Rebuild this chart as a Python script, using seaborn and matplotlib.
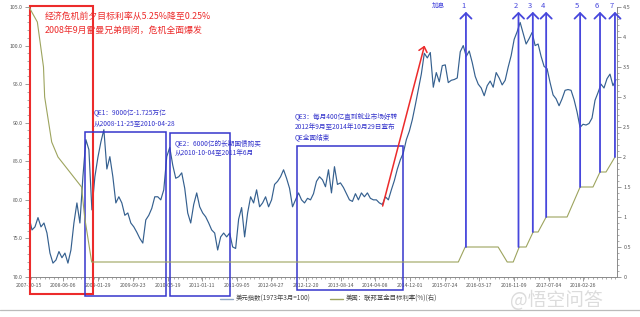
import numpy as np
import pandas as pd
import matplotlib
matplotlib.use("Agg")
import matplotlib.pyplot as plt
import matplotlib.dates as mdates
from matplotlib.patches import Rectangle
from matplotlib.lines import Line2D
from matplotlib.ticker import MultipleLocator, FormatStrFormatter
import seaborn as sns

# ---------------- data ----------------
dxy_start = "2007-10-15"
dxy_end = "2018-10-07"
dxy_values = [
    77.8, 76.1, 76.5, 77.7, 76.5, 77.0, 75.7, 73.1, 71.8, 72.2, 73.3, 72.5, 73.1, 71.8, 73.5, 77.0, 79.6, 77.0, 83.0,
    87.8, 86.5, 78.7, 83.0, 85.5, 87.5, 89.1, 84.0, 85.6, 83.0, 79.6, 80.4, 79.6, 78.0, 78.3, 77.0, 76.5, 75.8, 75.0,
    74.4, 77.4, 78.0, 78.9, 80.4, 80.4, 80.0, 81.3, 85.6, 86.8, 84.5, 82.8, 83.0, 83.5, 81.5, 78.3, 77.0, 79.4, 80.9,
    79.1, 78.3, 77.8, 77.0, 76.1, 75.7, 73.5, 75.2, 75.7, 75.2, 75.7, 73.9, 73.7, 77.5, 79.0, 75.2, 78.3, 80.4, 79.6,
    81.3, 79.1, 79.6, 80.4, 79.1, 80.0, 82.0, 82.4, 83.0, 83.9, 82.8, 81.5, 79.1, 80.0, 80.9, 80.0, 79.6, 80.2, 80.0,
    80.8, 82.4, 83.0, 82.6, 81.7, 83.9, 80.9, 84.3, 82.0, 82.2, 81.6, 80.8, 80.0, 79.8, 80.8, 80.0, 80.9, 80.4, 80.9,
    80.2, 80.0, 80.0, 79.6, 79.4, 80.4, 80.0, 81.3, 82.5, 84.0, 85.2, 86.1, 87.8, 88.9, 90.4, 92.3, 94.3, 96.3, 99.0,
    98.4, 99.1, 94.6, 96.5, 95.3, 97.4, 97.5, 95.2, 95.5, 95.6, 95.8, 99.2, 100.0, 98.6, 99.3, 97.8, 96.0, 95.0, 94.5,
    93.5, 94.8, 95.4, 94.6, 96.5, 95.8, 94.9, 95.5, 97.2, 98.7, 100.8, 101.8, 103.0, 101.6, 100.2, 100.9, 101.7, 100.0, 100.2,
    98.6, 97.3, 97.0, 95.2, 93.6, 93.1, 92.2, 93.1, 94.2, 94.3, 94.2, 93.0, 91.4, 89.4, 89.8, 89.7, 89.9, 90.6, 92.9,
    93.9, 95.0, 94.5, 95.7, 96.3, 94.8, 95.6,
]

fed_dates = ["2007-10-15", "2007-12-11", "2008-01-22", "2008-01-30", "2008-03-18", "2008-04-30",
             "2008-10-08", "2008-10-29", "2008-12-16", "2015-10-26", "2015-12-12", "2016-07-24",
             "2016-09-24", "2016-11-04", "2016-12-15", "2017-01-31", "2017-03-20", "2017-04-23",
             "2017-06-17", "2017-11-07", "2018-02-04", "2018-05-03", "2018-06-20", "2018-07-31",
             "2018-09-30"]
fed_rates = [4.5, 4.25, 3.5, 3.0, 2.25, 2.0, 1.5, 1.0, 0.25, 0.25, 0.5, 0.5,
             0.25, 0.25, 0.5, 0.5, 0.75, 0.75, 1.0, 1.0, 1.5, 1.5, 1.75, 1.75, 2.0]

hike_dates = ["2015-12-17", "2016-12-10", "2017-03-18", "2017-06-17", "2018-02-04", "2018-06-20", "2018-09-30"]
hike_rates = [0.5, 0.5, 0.75, 1.0, 1.5, 1.75, 2.0]
hike_labels = ["1", "2", "3", "4", "5", "6", "7"]

crisis_period = ("2007-10-24", "2008-12-22")
qe_starts = ["2008-11-02", "2010-06-03", "2012-10-16"]
qe_ends = ["2010-05-06", "2011-07-20", "2014-10-15"]

rally_start = ("2014-05-27", 79.2)
rally_end = ("2015-03-09", 100.0)

xtick_dates = ["2007-10-15", "2008-06-06", "2009-01-29", "2009-09-23", "2010-05-19", "2011-01-11",
               "2011-09-05", "2012-04-27", "2012-12-20", "2013-08-14", "2014-04-08", "2014-12-01",
               "2015-07-24", "2016-03-17", "2016-11-09", "2017-07-04", "2018-02-26"]

crisis_text = ["经济危机前夕目标利率从5.25%降至0.25%", "2008年9月雷曼兄弟倒闭，危机全面爆发"]
qe_texts = [["QE1：9000亿-1.725万亿", "从2008-11-25至2010-04-28"],
            ["QE2：6000亿的长期国债购买", "从2010-10-04至2011年6月"],
            ["QE3：每月400亿直到就业市场好转", "2012年9月至2014年10月29日宣布", "QE全面结束"]]
legend_labels = ["美元指数(1973年3月=100)", "美国：联邦基金目标利率(%)(右)"]

# ---------------- style ----------------
DXY_COLOR = "#35608f"
FED_COLOR = "#9da45e"
RED = "#ec2b2b"
BLUE = "#3535cc"
ARROW_BLUE = "#4646dc"
AX_GRAY = "#8a8a8a"
LABEL_GRAY = "#555555"

sns.set_theme(style="white")
plt.rcParams["font.family"] = ["Noto Sans CJK SC", "DejaVu Sans"]
plt.rcParams["axes.unicode_minus"] = False

W, H = 640, 317
L, R, T, B = 29, 617, 7, 277
fig = plt.figure(figsize=(6.4, 3.17), dpi=100)
fig.patch.set_facecolor("white")
ax = fig.add_axes([L / W, 1 - B / H, (R - L) / W, (B - T) / H])
ax.set_facecolor("white")


def P(x, y):
    """pixel position -> axes fraction (for annotation placement)"""
    return ((x - L) / (R - L), (B - y) / (B - T))


def D(s):
    return mdates.date2num(pd.Timestamp(s))


dxy = pd.DataFrame({"date": pd.date_range(dxy_start, dxy_end, periods=len(dxy_values)),
                    "dxy": dxy_values})
sns.lineplot(data=dxy, x="date", y="dxy", ax=ax, color=DXY_COLOR, lw=0.85, zorder=3)

ax2 = ax.twinx()
fed = pd.DataFrame({"date": pd.to_datetime(fed_dates), "rate": fed_rates})
sns.lineplot(data=fed, x="date", y="rate", ax=ax2, color=FED_COLOR, lw=0.8, zorder=2)

ax.set_xlim(pd.Timestamp("2007-10-15"), pd.Timestamp("2018-10-14"))
ax.set_ylim(70, 105)
ax2.set_ylim(0, 4.5)
for a in (ax, ax2):
    a.set_xlabel("")
    a.set_ylabel("")
    a.spines["top"].set_visible(False)
ax.spines["right"].set_visible(False)
ax2.spines["left"].set_visible(False)
ax2.spines["bottom"].set_visible(False)
for sp in ("left", "bottom"):
    ax.spines[sp].set_color(AX_GRAY)
    ax.spines[sp].set_linewidth(0.7)
ax2.spines["right"].set_color(AX_GRAY)
ax2.spines["right"].set_linewidth(0.7)

ax.set_xticks(pd.to_datetime(xtick_dates))
ax.set_xticklabels(xtick_dates)
ax.xaxis.set_minor_locator(mdates.MonthLocator())
ax.yaxis.set_major_locator(MultipleLocator(5))
ax.yaxis.set_minor_locator(MultipleLocator(1))
ax.yaxis.set_major_formatter(FormatStrFormatter("%.1f"))
ax2.yaxis.set_major_locator(MultipleLocator(0.5))
ax2.yaxis.set_minor_locator(MultipleLocator(0.1))
ax2.yaxis.set_major_formatter(FormatStrFormatter("%g"))

ax.tick_params(axis="both", which="major", bottom=True, left=True, length=3, width=0.6,
               color=AX_GRAY, labelsize=3.7, labelcolor=LABEL_GRAY, pad=1.5)
ax.tick_params(axis="both", which="minor", bottom=True, left=True, length=1.6, width=0.5, color=AX_GRAY)
ax2.tick_params(axis="y", which="major", right=True, length=3, width=0.6, color=AX_GRAY,
                labelsize=3.9, labelcolor=LABEL_GRAY, pad=1.5)
ax2.tick_params(axis="y", which="minor", right=True, length=1.6, width=0.5, color=AX_GRAY)
ax2.tick_params(axis="x", which="both", bottom=False, labelbottom=False)

# crisis box (red)
ax.add_patch(Rectangle((D(crisis_period[0]), 67.8), D(crisis_period[1]) - D(crisis_period[0]), 105.1 - 67.8,
                       fill=False, edgecolor=RED, lw=1.5, clip_on=False, zorder=5))
ax.text(*P(45, 16), crisis_text[0], transform=ax.transAxes, color=RED, fontsize=6.4,
        ha="left", va="center", zorder=6)
ax.text(*P(45, 30), crisis_text[1], transform=ax.transAxes, color=RED, fontsize=6.4,
        ha="left", va="center", zorder=6)

# QE boxes (blue)
qe_tops = [88.74, 88.66, 86.92]
qe_bottoms = [67.53, 67.53, 68.31]
for s, e, top, bot in zip(qe_starts, qe_ends, qe_tops, qe_bottoms):
    ax.add_patch(Rectangle((D(s), bot), D(e) - D(s), top - bot, fill=False,
                           edgecolor=BLUE, lw=1.1, clip_on=False, zorder=5))
qe_text_pos = [[(94, 113), (94, 123)], [(175, 143), (175, 153)], [(295, 116), (295, 127), (295, 137)]]
for lines, poss in zip(qe_texts, qe_text_pos):
    for t, (px, py) in zip(lines, poss):
        ax.text(*P(px, py), t, transform=ax.transAxes, color=BLUE, fontsize=4.8,
                ha="left", va="center", zorder=6)

# rally arrow (red)
ax.annotate("", xy=(D(rally_end[0]), rally_end[1]), xytext=(D(rally_start[0]), rally_start[1]),
            arrowprops=dict(arrowstyle="->,head_length=0.35,head_width=0.3", color=RED, lw=1.1,
                            shrinkA=0, shrinkB=0, mutation_scale=10), zorder=6)

# rate hike arrows
for d, r, lab in zip(hike_dates, hike_rates, hike_labels):
    ax2.annotate("", xy=(D(d), 4.42), xytext=(D(d), r),
                 arrowprops=dict(arrowstyle="->,head_length=0.4,head_width=0.4", color=ARROW_BLUE,
                                 lw=1.3, shrinkA=0, shrinkB=0, mutation_scale=10), zorder=6)
    ax2.annotate(lab, xy=(D(d), 4.52), xytext=(-2, 0), textcoords="offset points",
                 color=ARROW_BLUE, fontsize=5.5, ha="center", va="center", annotation_clip=False)
ax.text(*P(438, 6), "加息", transform=ax.transAxes, color=ARROW_BLUE, fontsize=4.8,
        ha="center", va="center")

# legend
handles = [Line2D([], [], color="#8fa6c4", lw=1.0), Line2D([], [], color=FED_COLOR, lw=1.0)]
fig.legend(handles, legend_labels, loc="center left", bbox_to_anchor=(214 / W, 1 - 299 / H),
           ncol=2, fontsize=4.6, frameon=False, handlelength=2.0, handletextpad=0.5,
           columnspacing=3.0, labelcolor="#444444")

# bottom separator line and watermark
fig.add_artist(Line2D([0, 1], [1 - 309.5 / H] * 2, color="#bbbbbb", lw=0.9))
fig.text(510 / W, 1 - 301 / H, "@悟空问答", fontsize=13.5, color="#dcdcdc", ha="left", va="center",
         zorder=10)

fig.savefig("out.png", dpi=100, facecolor="white")
